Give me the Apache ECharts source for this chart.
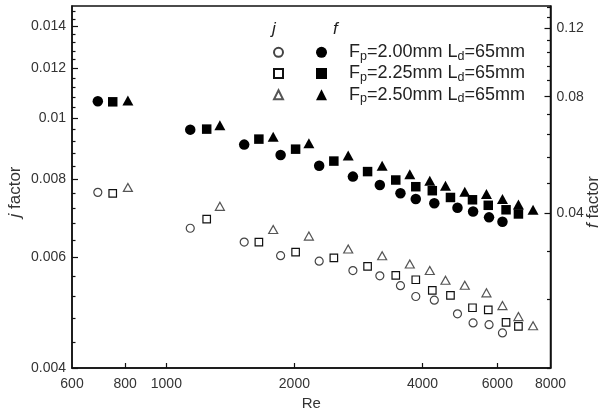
<!DOCTYPE html>
<html><head><meta charset="utf-8">
<script src="https://cdn.jsdelivr.net/npm/echarts@6/dist/echarts.min.js"></script>
<style>html,body{margin:0;padding:0;background:#fff}#c{width:604px;height:410px}</style>
</head><body><div id="c"></div>
<script>
// ---- data ----
const seriesLabels = ['2.00', '2.25', '2.50'];
const reA = [690, 1138, 1524, 1856, 2287, 2745, 3176, 3551, 3858, 4265, 4835, 5261, 5736, 6168];
const jA  = [0.00762, 0.00668, 0.00635, 0.00604, 0.00592, 0.00572, 0.00561, 0.00541, 0.00520, 0.00513, 0.00488, 0.00472, 0.00469, 0.00455];
const fA  = [0.0779, 0.0658, 0.0602, 0.0566, 0.0531, 0.0498, 0.0474, 0.0451, 0.0436, 0.0425, 0.0414, 0.0405, 0.0391, 0.0381];
const reB = [748, 1244, 1650, 2013, 2476, 2972, 3462, 3858, 4219, 4655, 5244, 5712, 6289, 6725];
const jB  = [0.00759, 0.00691, 0.00635, 0.00612, 0.00599, 0.00581, 0.00562, 0.00553, 0.00532, 0.00522, 0.00499, 0.00495, 0.00473, 0.00466];
const fB  = [0.0776, 0.0660, 0.0622, 0.0586, 0.0546, 0.0513, 0.0488, 0.0469, 0.0458, 0.0440, 0.0434, 0.0420, 0.0409, 0.0399];
const reC = [812, 1336, 1783, 2163, 2676, 3216, 3735, 4162, 4531, 5030, 5656, 6168, 6725, 7279];
const jC  = [0.00776, 0.00724, 0.00665, 0.00649, 0.00619, 0.00604, 0.00586, 0.00572, 0.00552, 0.00542, 0.00527, 0.00503, 0.00483, 0.00467];
const fC  = [0.0782, 0.0675, 0.0631, 0.0607, 0.0564, 0.0531, 0.0505, 0.0486, 0.0472, 0.0455, 0.0449, 0.0436, 0.0422, 0.0409];

const xLabels = [600, 800, 1000, 2000, 4000, 6000, 8000];
const xTicks = [800, 1000, 2000, 4000, 6000];
const jMajor = [0.004, 0.006, 0.008, 0.01, 0.012, 0.014];
const jMinor = [0.0044, 0.0048, 0.0052, 0.0056, 0.0064, 0.0068, 0.0072, 0.0076, 0.0084, 0.0088, 0.0092, 0.0096,
                0.0104, 0.0108, 0.0112, 0.0116, 0.0124, 0.0128, 0.0132, 0.0136, 0.0144, 0.0148];
const fMajor = [0.04, 0.08, 0.12];
const fMinor = [0.016, 0.024, 0.032, 0.048, 0.056, 0.064, 0.072, 0.088, 0.096, 0.104, 0.112, 0.128, 0.136];

// ---- chart ----
const FONT = 'Liberation Sans, Arial, Helvetica, sans-serif';
const AX = '#111';
const fmt = v => String(+(+v).toPrecision(6));
const pairs = (xs, ys) => xs.map((x, i) => [x, ys[i]]);

function yAx(pos, min, max, major, minor, isMinor) {
  return {
    type: 'log', logBase: 10, position: pos, min: min, max: max,
    splitLine: {show: false}, minorTick: {show: false}, minorSplitLine: {show: false},
    axisLine: {show: !isMinor, onZero: false, lineStyle: {color: AX, width: 1.5}},
    axisTick: {show: true, inside: true, length: isMinor ? 3.5 : 6, customValues: isMinor ? minor : major,
               lineStyle: {color: AX, width: 1.2}},
    axisLabel: {show: !isMinor, customValues: major, formatter: fmt, margin: 6,
                fontSize: 14, fontFamily: FONT, color: '#333'}
  };
}

const names = ['j' + seriesLabels[0], 'j' + seriesLabels[1], 'j' + seriesLabels[2],
               'f' + seriesLabels[0], 'f' + seriesLabels[1], 'f' + seriesLabels[2]];

const openStyle = c => ({color: '#fff', borderColor: c, borderWidth: 1.2, opacity: 1});
const fillStyle = {color: '#000', borderWidth: 0, opacity: 1};
const nameRich = {i: {fontStyle: 'italic', fontSize: 17, fontFamily: FONT, fill: '#333'}};

const option = {
  animation: false,
  backgroundColor: '#fff',
  grid: {left: 72, right: 53.5, top: 6, bottom: 42, containLabel: false, outerBoundsMode: 'none',
         show: true, borderColor: AX, borderWidth: 1.5, backgroundColor: 'transparent'},
  xAxis: {
    type: 'log', logBase: 10, min: 600, max: 8000, position: 'bottom',
    splitLine: {show: false}, minorTick: {show: false},
    axisLine: {onZero: false, lineStyle: {color: AX, width: 1.5}},
    axisTick: {inside: true, length: 5, customValues: xTicks, lineStyle: {color: AX, width: 1.2}},
    axisLabel: {customValues: xLabels, formatter: fmt, margin: 9, fontSize: 14, fontFamily: FONT, color: '#333'},
    name: 'Re', nameLocation: 'middle', nameGap: 23,
    nameTextStyle: {fontSize: 15, fontFamily: FONT, color: '#333'}
  },
  yAxis: [
    yAx('left', 0.004, 0.0151, jMajor, jMinor, false),
    yAx('left', 0.004, 0.0151, jMajor, jMinor, true),
    yAx('right', 0.0160, 0.137, fMajor, fMinor, false),
    yAx('right', 0.0160, 0.137, fMajor, fMinor, true)
  ],
  legend: [
    {data: names.slice(0, 3), orient: 'vertical', left: 273, top: 42, padding: 0,
     itemWidth: 9, itemHeight: 9, itemGap: 0.6, selectedMode: false,
     formatter: () => ' ', textStyle: {fontSize: 18, lineHeight: 20.6}},
    {data: names.slice(3), orient: 'vertical', left: 316, top: 42, padding: 0,
     itemWidth: 11, itemHeight: 11, itemGap: 0.6, selectedMode: false,
     formatter: n => 'F{s|p}=' + n.slice(1) + 'mm L{s|d}=65mm',
     textStyle: {fontSize: 18, lineHeight: 20.6, fontFamily: FONT, color: '#222', padding: [0, 0, 0, 17],
                 rich: {s: {fontSize: 12.5, fontFamily: FONT, color: '#222', verticalAlign: 'bottom', lineHeight: 12}}}}
  ],
  graphic: [
    {type: 'text', left: 272, top: 21, style: {text: 'j', font: 'italic 17px ' + FONT, fill: '#222'}},
    {type: 'text', left: 333, top: 21, style: {text: 'f', font: 'italic 17px ' + FONT, fill: '#222'}},
    {type: 'text', x: 15, y: 192, rotation: Math.PI / 2,
     style: {text: '{i|j} factor', font: '17px ' + FONT, fill: '#333', align: 'center', verticalAlign: 'middle', rich: nameRich}},
    {type: 'text', x: 593, y: 202, rotation: Math.PI / 2,
     style: {text: '{i|f} factor', font: '17px ' + FONT, fill: '#333', align: 'center', verticalAlign: 'middle', rich: nameRich}}
  ],
  series: [
    {name: names[0], type: 'scatter', yAxisIndex: 0, symbol: 'circle', symbolSize: 8, itemStyle: openStyle('#444'), data: pairs(reA, jA)},
    {name: names[1], type: 'scatter', yAxisIndex: 0, symbol: 'rect', symbolSize: 7.5, itemStyle: openStyle('#111'), data: pairs(reB, jB)},
    {name: names[2], type: 'scatter', yAxisIndex: 0, symbol: 'triangle', symbolSize: [9, 8], itemStyle: openStyle('#555'), data: pairs(reC, jC)},
    {name: names[3], type: 'scatter', yAxisIndex: 2, symbol: 'circle', symbolSize: 10.5, itemStyle: fillStyle, data: pairs(reA, fA)},
    {name: names[4], type: 'scatter', yAxisIndex: 2, symbol: 'rect', symbolSize: 9.5, itemStyle: fillStyle, data: pairs(reB, fB)},
    {name: names[5], type: 'scatter', yAxisIndex: 2, symbol: 'triangle', symbolSize: [11, 10], itemStyle: fillStyle, data: pairs(reC, fC)}
  ]
};
const chart = echarts.init(document.getElementById('c'), null, {renderer: 'canvas'});
chart.setOption(option);
</script></body></html>
